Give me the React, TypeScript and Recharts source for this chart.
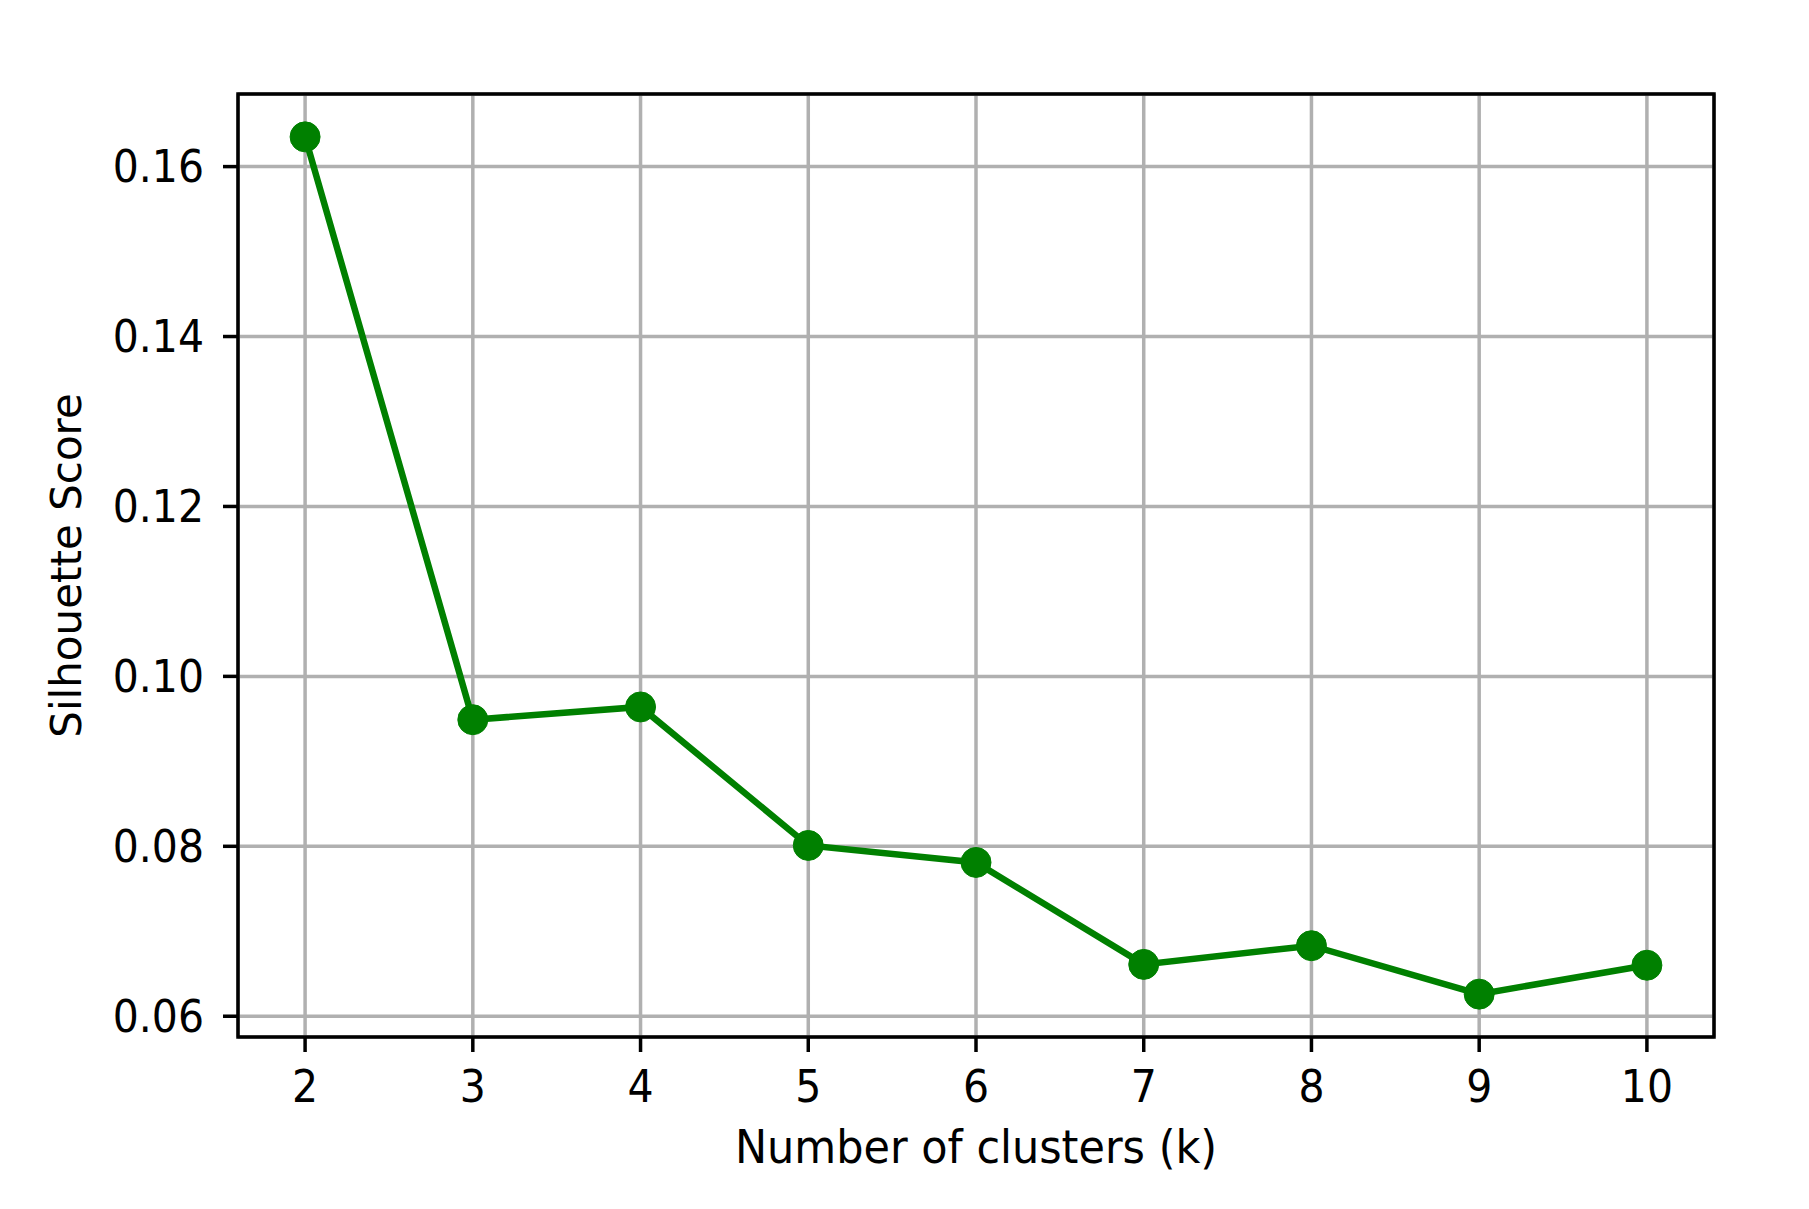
import { CartesianGrid, Label, Line, LineChart, ReferenceArea, XAxis, YAxis } from "recharts";

const clusters = [2, 3, 4, 5, 6, 7, 8, 9, 10];
const silhouette = [0.1635, 0.0949, 0.0964, 0.0801, 0.0781, 0.0661, 0.0683, 0.0626, 0.066];

const xTicks = [2, 3, 4, 5, 6, 7, 8, 9, 10];
const yTicks = [0.06, 0.08, 0.1, 0.12, 0.14, 0.16];

const data = clusters.map((k, i) => ({ k, score: silhouette[i] }));

// matplotlib style 5% margins around the data
const xPad = (Math.max(...clusters) - Math.min(...clusters)) * 0.05;
const yPad = (Math.max(...silhouette) - Math.min(...silhouette)) * 0.05;
const xDomain = [Math.min(...clusters) - xPad, Math.max(...clusters) + xPad];
const yDomain = [Math.min(...silhouette) - yPad, Math.max(...silhouette) + yPad];

const FONT = "'DejaVu Sans', sans-serif";
const GREEN = "#008000";
const STRETCH = 1.07; // the source picture is a little taller than wide

function XTick({ x, y, payload }: any) {
  return (
    <g transform={`translate(${x},${y}) scale(1,${STRETCH})`}>
      <text x={0} y={0} dy="0.71em" textAnchor="middle" fill="#000" fontSize={41} fontFamily={FONT}>
        {payload.value}
      </text>
    </g>
  );
}

function YTick({ x, y, payload }: any) {
  return (
    <g transform={`translate(${x},${y}) scale(1,${STRETCH})`}>
      <text x={0} y={0} dy="0.355em" textAnchor="end" fill="#000" fontSize={41} fontFamily={FONT}>
        {Number(payload.value).toFixed(2)}
      </text>
    </g>
  );
}

export default function App() {
  return (
    <div style={{ position: "absolute", left: 0, top: 0, background: "#fff" }}>
      <LineChart
        width={1809}
        height={1209}
        data={data}
        margin={{ top: 94, right: 95, left: 38, bottom: 37 }}
      >
        <CartesianGrid stroke="#b0b0b0" strokeWidth={3.5} />
        <XAxis
          dataKey="k"
          type="number"
          domain={xDomain}
          ticks={xTicks}
          allowDataOverflow
          height={135}
          axisLine={false}
          tickSize={15}
          tickMargin={19}
          tickLine={{ stroke: "#000", strokeWidth: 3.5 }}
          tick={XTick}
        >
          <Label
            content={({ viewBox }: any) => {
              const cx = viewBox.x + viewBox.width / 2;
              const by = viewBox.y + viewBox.height - 9;
              return (
                <g transform={`translate(${cx},${by}) scale(1,${STRETCH})`}>
                  <text x={0} y={0} textAnchor="middle" fill="#000" fontSize={43} fontFamily={FONT}>
                    Number of clusters (k)
                  </text>
                </g>
              );
            }}
          />
        </XAxis>
        <YAxis
          type="number"
          domain={yDomain}
          ticks={yTicks}
          allowDataOverflow
          width={200}
          axisLine={false}
          tickSize={15}
          tickMargin={19}
          tickLine={{ stroke: "#000", strokeWidth: 3.5 }}
          tick={YTick}
        >
          <Label
            content={({ viewBox }: any) => {
              const cx = viewBox.x + 43;
              const cy = viewBox.y + viewBox.height / 2;
              return (
                <text
                  x={cx}
                  y={cy}
                  transform={`rotate(-90, ${cx}, ${cy})`}
                  textAnchor="middle"
                  fill="#000"
                  fontSize={42}
                  fontFamily={FONT}
                >
                  Silhouette Score
                </text>
              );
            }}
          />
        </YAxis>
        <Line
          dataKey="score"
          stroke={GREEN}
          strokeWidth={6.5}
          dot={{ r: 15, fill: GREEN, stroke: GREEN, strokeWidth: 1 }}
          activeDot={false}
          isAnimationActive={false}
        />
        <ReferenceArea
          x1={xDomain[0]}
          x2={xDomain[1]}
          y1={yDomain[0]}
          y2={yDomain[1]}
          fill="none"
          stroke="#000"
          strokeWidth={3.5}
        />
      </LineChart>
    </div>
  );
}
